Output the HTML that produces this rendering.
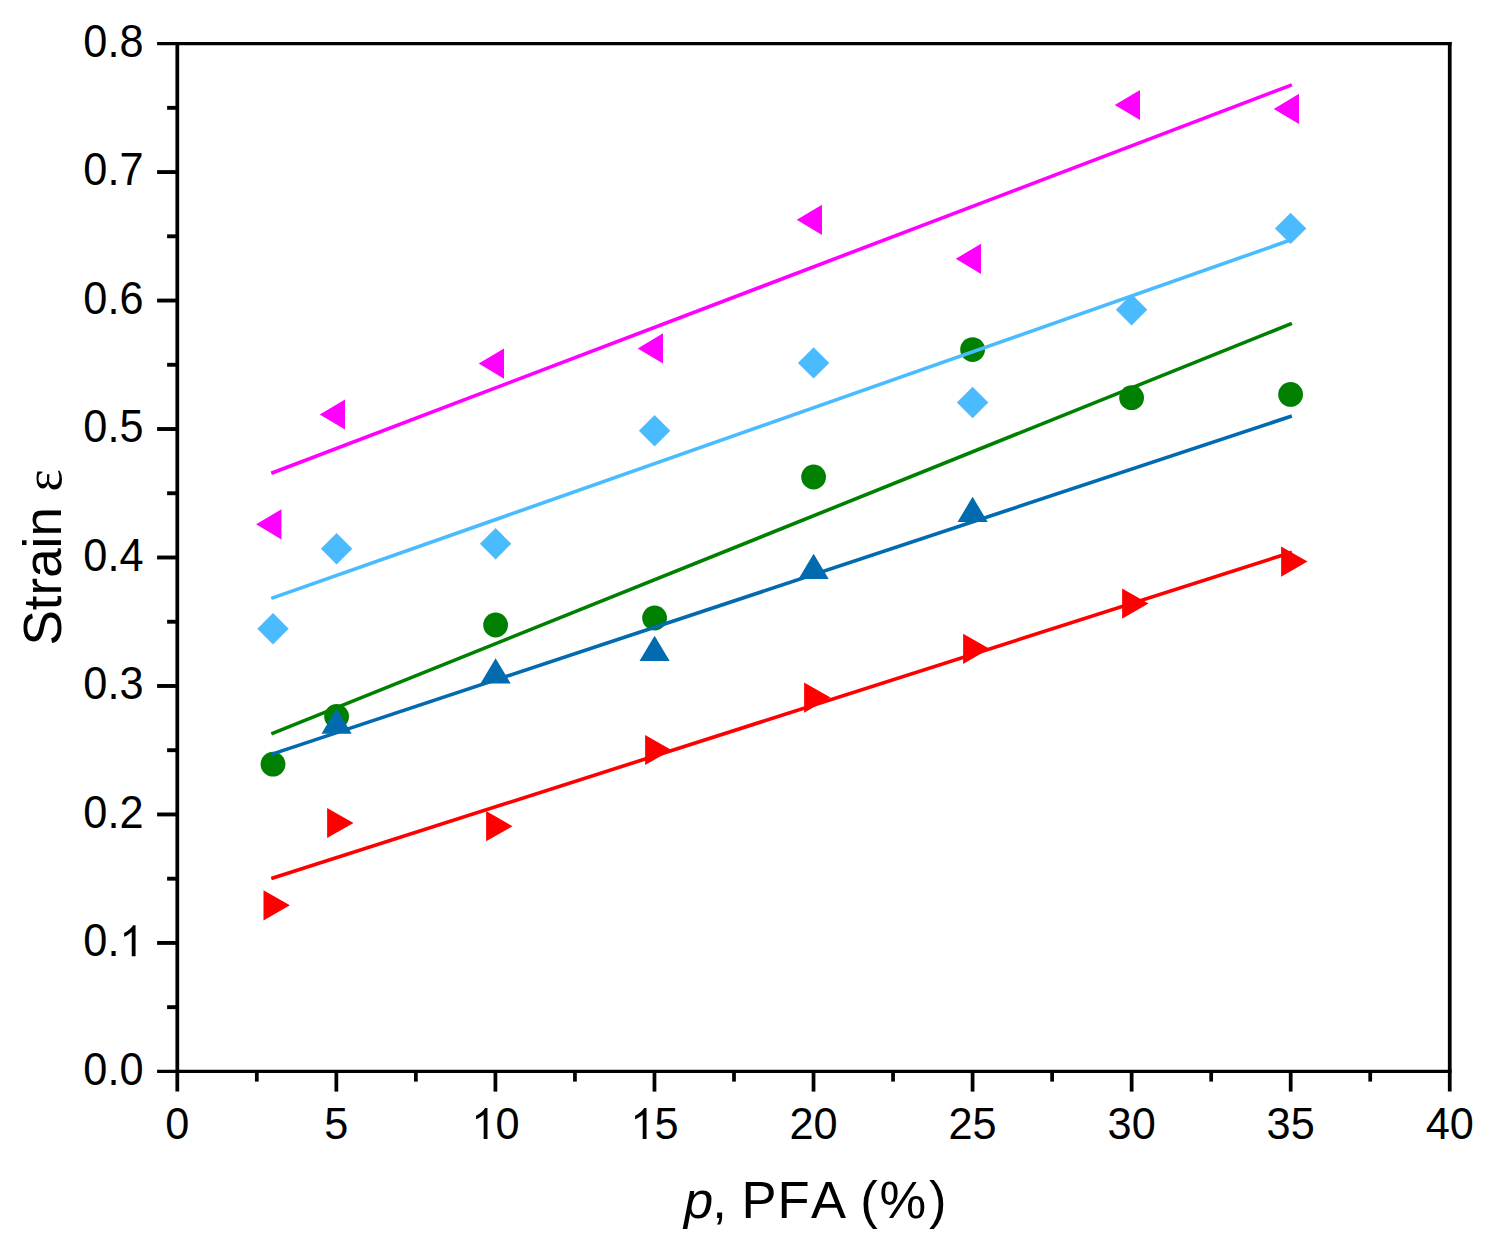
<!DOCTYPE html>
<html><head><meta charset="utf-8"><title>Strain vs PFA</title>
<style>html,body{margin:0;padding:0;background:#fff}svg{display:block}text{font-family:"Liberation Sans",sans-serif;fill:#000;font-kerning:none}</style></head><body>
<svg width="1490" height="1254" viewBox="0 0 1490 1254">
<rect width="1490" height="1254" fill="#fff"/>
<line x1="271.30" y1="878.54" x2="1291.90" y2="552.18" stroke="#FF0000" stroke-width="3.6" stroke-linecap="butt"/>
<polygon points="263.50,890.20 263.50,920.40 289.90,905.30" fill="#FF0000"/>
<polygon points="327.10,807.90 327.10,838.10 353.50,823.00" fill="#FF0000"/>
<polygon points="486.10,811.10 486.10,841.30 512.50,826.20" fill="#FF0000"/>
<polygon points="645.10,734.90 645.10,765.10 671.50,750.00" fill="#FF0000"/>
<polygon points="804.10,682.50 804.10,712.70 830.50,697.60" fill="#FF0000"/>
<polygon points="963.10,633.70 963.10,663.90 989.50,648.80" fill="#FF0000"/>
<polygon points="1122.10,588.50 1122.10,618.70 1148.50,603.60" fill="#FF0000"/>
<polygon points="1281.10,546.50 1281.10,576.70 1307.50,561.60" fill="#FF0000"/>
<line x1="271.30" y1="733.88" x2="1291.90" y2="323.38" stroke="#008000" stroke-width="3.6" stroke-linecap="butt"/>
<circle cx="273.00" cy="764.2" r="12.4" fill="#008000"/>
<circle cx="336.60" cy="716.4" r="12.4" fill="#008000"/>
<circle cx="495.60" cy="625.0" r="12.4" fill="#008000"/>
<circle cx="654.60" cy="618.0" r="12.4" fill="#008000"/>
<circle cx="813.60" cy="477.0" r="12.4" fill="#008000"/>
<circle cx="972.60" cy="349.6" r="12.4" fill="#008000"/>
<circle cx="1131.60" cy="397.7" r="12.4" fill="#008000"/>
<circle cx="1290.60" cy="394.4" r="12.4" fill="#008000"/>
<line x1="271.30" y1="754.36" x2="1291.90" y2="415.97" stroke="#026BB0" stroke-width="3.6" stroke-linecap="butt"/>
<polygon points="321.50,733.73 351.70,733.73 336.60,708.43" fill="#026BB0"/>
<polygon points="480.50,683.43 510.70,683.43 495.60,658.13" fill="#026BB0"/>
<polygon points="639.50,661.03 669.70,661.03 654.60,635.73" fill="#026BB0"/>
<polygon points="798.50,579.03 828.70,579.03 813.60,553.73" fill="#026BB0"/>
<polygon points="957.50,522.03 987.70,522.03 972.60,496.73" fill="#026BB0"/>
<line x1="271.30" y1="598.40" x2="1291.90" y2="239.54" stroke="#4BBBFF" stroke-width="3.6" stroke-linecap="butt"/>
<polygon points="257.30,628.7 273.00,613.0 288.70,628.7 273.00,644.4000000000001" fill="#4BBBFF"/>
<polygon points="320.90,548.7 336.60,533.0 352.30,548.7 336.60,564.4000000000001" fill="#4BBBFF"/>
<polygon points="479.90,543.7 495.60,528.0 511.30,543.7 495.60,559.4000000000001" fill="#4BBBFF"/>
<polygon points="638.90,430.8 654.60,415.1 670.30,430.8 654.60,446.5" fill="#4BBBFF"/>
<polygon points="797.90,362.9 813.60,347.2 829.30,362.9 813.60,378.59999999999997" fill="#4BBBFF"/>
<polygon points="956.90,402.5 972.60,386.8 988.30,402.5 972.60,418.2" fill="#4BBBFF"/>
<polygon points="1115.90,309.7 1131.60,294.0 1147.30,309.7 1131.60,325.4" fill="#4BBBFF"/>
<polygon points="1274.90,228.4 1290.60,212.70000000000002 1306.30,228.4 1290.60,244.1" fill="#4BBBFF"/>
<line x1="271.30" y1="473.25" x2="1291.90" y2="84.81" stroke="#FF00FF" stroke-width="3.6" stroke-linecap="butt"/>
<polygon points="281.43,509.20 281.43,539.40 256.13,524.30" fill="#FF00FF"/>
<polygon points="345.03,399.40 345.03,429.60 319.73,414.50" fill="#FF00FF"/>
<polygon points="504.03,348.50 504.03,378.70 478.73,363.60" fill="#FF00FF"/>
<polygon points="663.03,333.30 663.03,363.50 637.73,348.40" fill="#FF00FF"/>
<polygon points="822.03,204.70 822.03,234.90 796.73,219.80" fill="#FF00FF"/>
<polygon points="981.03,243.70 981.03,273.90 955.73,258.80" fill="#FF00FF"/>
<polygon points="1140.03,89.90 1140.03,120.10 1114.73,105.00" fill="#FF00FF"/>
<polygon points="1299.03,93.80 1299.03,124.00 1273.73,108.90" fill="#FF00FF"/>
<g stroke="#000" fill="none" stroke-linecap="butt">
<line x1="177.3" y1="41.93" x2="177.3" y2="1091.6000000000001" stroke-width="3.75"/>
<line x1="1449.75" y1="41.93" x2="1449.75" y2="1091.6000000000001" stroke-width="3.75"/>
<line x1="157.10" y1="43.6" x2="1451.62" y2="43.6" stroke-width="3.35"/>
<line x1="157.10" y1="1071.4" x2="1451.62" y2="1071.4" stroke-width="3.35"/>
<line x1="167.10" y1="1007.16" x2="177.3" y2="1007.16" stroke-width="3.9"/>
<line x1="157.10" y1="942.93" x2="177.3" y2="942.93" stroke-width="3.9"/>
<line x1="167.10" y1="878.69" x2="177.3" y2="878.69" stroke-width="3.9"/>
<line x1="157.10" y1="814.45" x2="177.3" y2="814.45" stroke-width="3.9"/>
<line x1="167.10" y1="750.21" x2="177.3" y2="750.21" stroke-width="3.9"/>
<line x1="157.10" y1="685.98" x2="177.3" y2="685.98" stroke-width="3.9"/>
<line x1="167.10" y1="621.74" x2="177.3" y2="621.74" stroke-width="3.9"/>
<line x1="157.10" y1="557.50" x2="177.3" y2="557.50" stroke-width="3.9"/>
<line x1="167.10" y1="493.26" x2="177.3" y2="493.26" stroke-width="3.9"/>
<line x1="157.10" y1="429.02" x2="177.3" y2="429.02" stroke-width="3.9"/>
<line x1="167.10" y1="364.79" x2="177.3" y2="364.79" stroke-width="3.9"/>
<line x1="157.10" y1="300.55" x2="177.3" y2="300.55" stroke-width="3.9"/>
<line x1="167.10" y1="236.31" x2="177.3" y2="236.31" stroke-width="3.9"/>
<line x1="157.10" y1="172.07" x2="177.3" y2="172.07" stroke-width="3.9"/>
<line x1="167.10" y1="107.84" x2="177.3" y2="107.84" stroke-width="3.9"/>
<line x1="256.83" y1="1071.4" x2="256.83" y2="1081.60" stroke-width="3.75"/>
<line x1="336.36" y1="1071.4" x2="336.36" y2="1091.60" stroke-width="3.75"/>
<line x1="415.88" y1="1071.4" x2="415.88" y2="1081.60" stroke-width="3.75"/>
<line x1="495.41" y1="1071.4" x2="495.41" y2="1091.60" stroke-width="3.75"/>
<line x1="574.94" y1="1071.4" x2="574.94" y2="1081.60" stroke-width="3.75"/>
<line x1="654.47" y1="1071.4" x2="654.47" y2="1091.60" stroke-width="3.75"/>
<line x1="734.00" y1="1071.4" x2="734.00" y2="1081.60" stroke-width="3.75"/>
<line x1="813.53" y1="1071.4" x2="813.53" y2="1091.60" stroke-width="3.75"/>
<line x1="893.05" y1="1071.4" x2="893.05" y2="1081.60" stroke-width="3.75"/>
<line x1="972.58" y1="1071.4" x2="972.58" y2="1091.60" stroke-width="3.75"/>
<line x1="1052.11" y1="1071.4" x2="1052.11" y2="1081.60" stroke-width="3.75"/>
<line x1="1131.64" y1="1071.4" x2="1131.64" y2="1091.60" stroke-width="3.75"/>
<line x1="1211.17" y1="1071.4" x2="1211.17" y2="1081.60" stroke-width="3.75"/>
<line x1="1290.69" y1="1071.4" x2="1290.69" y2="1091.60" stroke-width="3.75"/>
<line x1="1370.22" y1="1071.4" x2="1370.22" y2="1081.60" stroke-width="3.75"/>
</g>
<text font-size="43.3" transform="translate(83.31,1084.80) scale(1,1.058)">0.0</text>
<text font-size="43.3" transform="translate(83.31,956.33) scale(1,1.058)">0.</text>
<path d="M763 0H583V1147Q518 1085 412.5 1023Q307 961 223 930V1104Q374 1175 487 1276Q600 1377 647 1472H763Z" transform="translate(119.43,956.33) scale(0.021143,-0.021143)" fill="#000"/>
<text font-size="43.3" transform="translate(83.31,827.85) scale(1,1.058)">0.2</text>
<text font-size="43.3" transform="translate(83.31,699.38) scale(1,1.058)">0.3</text>
<text font-size="43.3" transform="translate(83.31,570.90) scale(1,1.058)">0.4</text>
<text font-size="43.3" transform="translate(83.31,442.42) scale(1,1.058)">0.5</text>
<text font-size="43.3" transform="translate(83.31,313.95) scale(1,1.058)">0.6</text>
<text font-size="43.3" transform="translate(83.31,185.47) scale(1,1.058)">0.7</text>
<text font-size="43.3" transform="translate(83.31,57.00) scale(1,1.058)">0.8</text>
<text font-size="43.3" transform="translate(165.26,1139.00) scale(1,1.025)">0</text>
<text font-size="43.3" transform="translate(324.32,1139.00) scale(1,1.025)">5</text>
<path d="M763 0H583V1147Q518 1085 412.5 1023Q307 961 223 930V1104Q374 1175 487 1276Q600 1377 647 1472H763Z" transform="translate(471.34,1139.00) scale(0.021143,-0.021143)" fill="#000"/>
<text font-size="43.3" transform="translate(495.41,1139.00) scale(1,1.025)">0</text>
<path d="M763 0H583V1147Q518 1085 412.5 1023Q307 961 223 930V1104Q374 1175 487 1276Q600 1377 647 1472H763Z" transform="translate(630.39,1139.00) scale(0.021143,-0.021143)" fill="#000"/>
<text font-size="43.3" transform="translate(654.47,1139.00) scale(1,1.025)">5</text>
<text font-size="43.3" transform="translate(789.45,1139.00) scale(1,1.025)">20</text>
<text font-size="43.3" transform="translate(948.51,1139.00) scale(1,1.025)">25</text>
<text font-size="43.3" transform="translate(1107.56,1139.00) scale(1,1.025)">30</text>
<text font-size="43.3" transform="translate(1266.62,1139.00) scale(1,1.025)">35</text>
<text font-size="43.3" transform="translate(1425.68,1139.00) scale(1,1.025)">40</text>
<text font-size="52.5" y="1218.3" font-style="italic" x="684">p</text>
<text font-size="52.5" y="1218.3" x="712.3 741.4 777.6 811 860.3 879.5 929">,PFA(%)</text>
<text font-size="53" transform="translate(61.0,645.6) rotate(-90)">Strain</text>
<text font-size="53" font-family="Liberation Serif" transform="translate(60.6,491.4) rotate(-90)" style="font-family:'Liberation Serif',serif">ε</text>
</svg></body></html>
